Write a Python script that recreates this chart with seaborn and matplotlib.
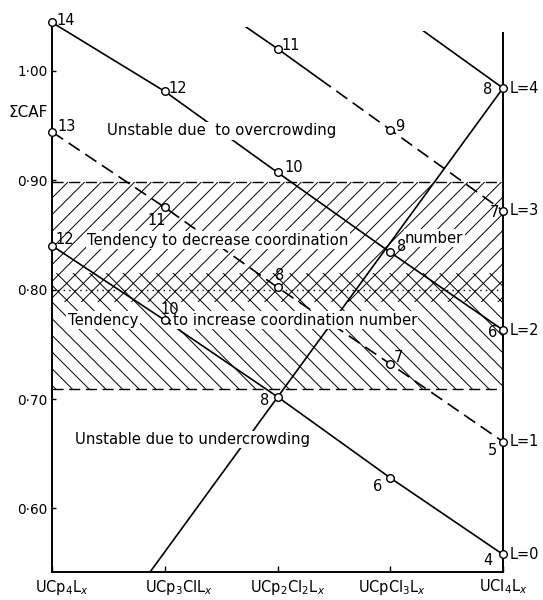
import numpy as np
import pandas as pd
import matplotlib
matplotlib.use("Agg")
import matplotlib.pyplot as plt
import seaborn as sns
from matplotlib.patches import Rectangle
from matplotlib.ticker import FuncFormatter, FixedLocator
from matplotlib.transforms import ScaledTranslation

# ---------------- data ----------------
compounds = [r"UCp$_4$L$_x$", r"UCp$_3$ClL$_x$", r"UCp$_2$Cl$_2$L$_x$",
             r"UCpCl$_3$L$_x$", r"UCl$_4$L$_x$"]
positions = [0, 1, 2, 3, 4]

# Sum of cone angle factors for each number of extra ligands L
L0_pos = [0, 1, 2, 3, 4]
L0_vals = [0.840, 0.772, 0.702, 0.628, 0.558]
L0_cn = ["12", "10", "8", "6", "4"]

L1_pos = [0, 1, 2, 3, 4]
L1_vals = [0.944, 0.875, 0.802, 0.732, 0.661]
L1_cn = ["13", "11", "8", "7", "5"]

L2_pos = [0, 1, 2, 3, 4]
L2_vals = [1.044, 0.981, 0.907, 0.834, 0.763]
L2_cn = ["14", "12", "10", "8", "6"]

L3_pos = [1, 2, 3, 4]
L3_vals = [1.091, 1.020, 0.946, 0.872]
L3_cn = ["13", "11", "9", "7"]

L4_pos = [3, 4]
L4_vals = [1.058, 0.984]
L4_cn = ["10", "8"]

# line of constant coordination number 8
iso8_pos = [0.87, 4.0]
iso8_vals = [0.542, 0.984]

over_limit = 0.898
mid_value = 0.800
under_limit = 0.709
decrease_band = (0.789, 0.898)
increase_band = (0.709, 0.815)

yticks = [0.60, 0.70, 0.80, 0.90, 1.00]
L_labels = ["L=0", "L=1", "L=2", "L=3", "L=4"]

# ---------------- figure ----------------
sns.set_style("white")
plt.rcParams["font.family"] = ["DejaVu Sans"]
plt.rcParams["hatch.linewidth"] = 0.7
for k in ["text.color", "axes.labelcolor", "xtick.color", "ytick.color"]:
    plt.rcParams[k] = "black"

fig = plt.figure(figsize=(5.43, 6.0), dpi=100)
ax = fig.add_axes([0.0958, 0.0467, 0.8305, 0.9196])
ax.set_xlim(0, 4)
ax.set_ylim(0.542, 1.046)

lw = 1.2
dash = (0, (8, 4))

# hatched regions
ax.fill_between([0, 4], decrease_band[0], decrease_band[1], facecolor="none",
                edgecolor="black", hatch="//", linewidth=0, zorder=1)
ax.fill_between([0, 4], increase_band[0], increase_band[1], facecolor="none",
                edgecolor="black", hatch="\\\\", linewidth=0, zorder=1)
ax.axhline(over_limit, color="black", lw=1.0, linestyle=dash, zorder=2)
ax.axhline(under_limit, color="black", lw=1.0, linestyle=dash, zorder=2)
ax.axhline(mid_value, color="black", lw=1.0, linestyle=(0, (1, 3)), zorder=2)

def clip_rect(x0, x1, y0=0.5, y1=1.038):
    return Rectangle((x0, y0), x1 - x0, y1 - y0, transform=ax.transData)

# series lines
sns.lineplot(x=L0_pos, y=L0_vals, ax=ax, color="black", lw=lw, zorder=3)
sns.lineplot(x=L1_pos, y=L1_vals, ax=ax, color="black", lw=lw, linestyle=dash, zorder=3)
sns.lineplot(x=L2_pos, y=L2_vals, ax=ax, color="black", lw=lw, zorder=3)
sns.lineplot(x=L3_pos, y=L3_vals, ax=ax, color="black", lw=lw, zorder=3)
ax.lines[-1].set_clip_path(clip_rect(0, 2.45, y1=1.040))
sns.lineplot(x=L3_pos, y=L3_vals, ax=ax, color="black", lw=lw, linestyle=dash, zorder=3)
ax.lines[-1].set_clip_path(clip_rect(2.45, 4.0))
sns.lineplot(x=L4_pos, y=L4_vals, ax=ax, color="black", lw=lw, zorder=3)
ax.lines[-1].set_clip_path(clip_rect(0, 4.0, y1=1.036))
sns.lineplot(x=iso8_pos, y=iso8_vals, ax=ax, color="black", lw=lw, zorder=3)

# markers + coordination number labels
offsets = {
    "L0": [(13, 6), (5, 11), (-13, -4), (-13, -9), (-15, -6)],
    "L1": [(15, 5), (-8, -13), (2, 12), (8, 6), (-11, -9)],
    "L2": [(14, 2), (13, 3), (16, 5), (11, 6), (-10, -2)],
    "L3": [(0, 0), (13, 3), (10, 3), (-9, -2)],
    "L4": [(0, 0), (-15, -1)],
}
series = {
    "L0": (L0_pos, L0_vals, L0_cn),
    "L1": (L1_pos, L1_vals, L1_cn),
    "L2": (L2_pos, L2_vals, L2_cn),
    "L3": (L3_pos, L3_vals, L3_cn),
    "L4": (L4_pos, L4_vals, L4_cn),
}
ytop = ax.get_ylim()[1]
for key, (px, vals, cns) in series.items():
    vis = [(p, v, c, o) for p, v, c, o in zip(px, vals, cns, offsets[key]) if v <= ytop]
    df = pd.DataFrame({"x": [t[0] for t in vis], "y": [t[1] for t in vis]})
    sns.scatterplot(data=df, x="x", y="y", ax=ax, marker="o", s=30,
                    facecolor="white", edgecolor="black", linewidth=1.0,
                    zorder=6, clip_on=False, legend=False)
    for p, v, c, o in vis:
        ax.annotate(c, (p, v), xytext=o, textcoords="offset pixels",
                    ha="center", va="center", fontsize=10.5, zorder=7)

# right-hand L labels
for lab, v in zip(L_labels, [L0_vals[-1], L1_vals[-1], L2_vals[-1], L3_vals[-1], L4_vals[-1]]):
    ax.annotate(lab, (4, v), xytext=(7, 0), textcoords="offset pixels",
                ha="left", va="center", fontsize=10.5, annotation_clip=False)

# region texts
tb = dict(facecolor="white", edgecolor="none", pad=1.0)
txt_kw = dict(fontsize=10.7, va="center", ha="left", zorder=5)
ax.text(0.49, 0.945, "Unstable due  to overcrowding", bbox=tb, **txt_kw)
ax.text(0.31, 0.845, "Tendency to decrease coordination", bbox=tb, **txt_kw)
ax.text(3.13, 0.847, "number", bbox=tb, **txt_kw)
ax.text(0.14, 0.772, "Tendency", bbox=tb, **txt_kw)
ax.text(1.07, 0.772, "to increase coordination number", bbox=tb, **txt_kw)
ax.text(0.20, 0.663, "Unstable due to undercrowding", bbox=tb, **txt_kw)

# y label
ax.text(-0.010, 0.962, "ΣCAF", transform=ax.get_yaxis_transform(),
        ha="right", va="center", fontsize=11)

# axes styling
ax.xaxis.set_major_locator(FixedLocator(positions))
ax.set_xticklabels(compounds, fontsize=10.5)
ax.yaxis.set_major_locator(FixedLocator(yticks))
ax.yaxis.set_major_formatter(FuncFormatter(lambda v, p: f"{v:.2f}".replace(".", "·")))
ax.tick_params(axis="y", direction="in", length=3, width=1, labelsize=9.8, pad=3, left=True)
ax.tick_params(axis="x", direction="in", length=4, width=1, labelsize=10.5, pad=4, bottom=True)
xshift = [10, 14, 10, 2, 0]
for lbl, dx in zip(ax.get_xticklabels(), xshift):
    lbl.set_transform(lbl.get_transform() + ScaledTranslation(dx / 100, 0, fig.dpi_scale_trans))
ax.set_xlabel("")
ax.set_ylabel("")
for s in ["left", "bottom", "right"]:
    ax.spines[s].set_linewidth(1.4)
    ax.spines[s].set_color("black")
ax.spines["top"].set_visible(False)
ax.spines["right"].set_bounds(0.542, 1.034)

fig.savefig("out.png", dpi=100)
